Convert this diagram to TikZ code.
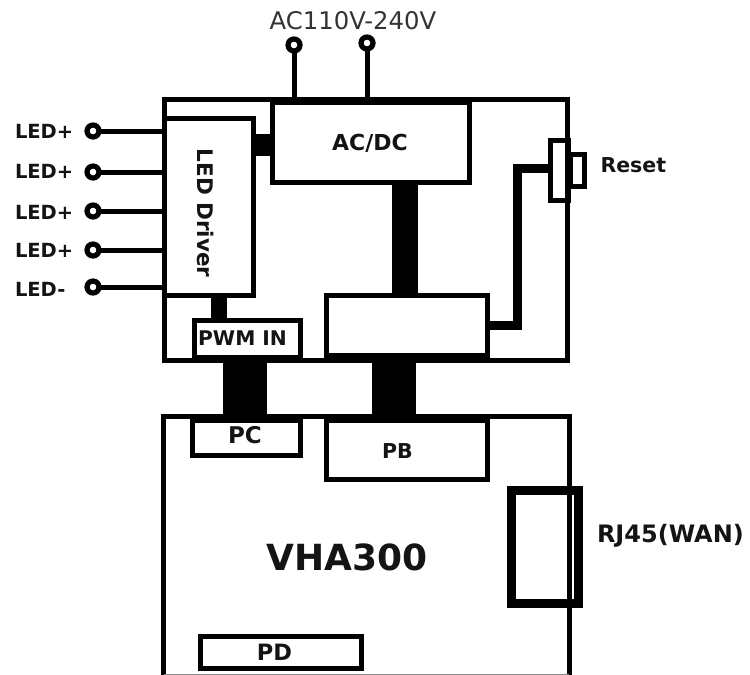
\documentclass[tikz,border=0pt]{standalone}
\usepackage{fontspec}
\setmainfont{DejaVu Sans}
\newcommand{\bfpx}[1]{\bfseries\fontsize{#1}{#1}\selectfont}
\tikzset{
  blockbox/.style={draw=black,line width=5pt,inner sep=0pt,outer sep=0pt,rectangle},
  lbl/.style={inner sep=0pt,outer sep=0pt,text=black!92},
  term/.style={circle,draw=black,line width=5.2pt,minimum size=12pt,inner sep=0pt,outer sep=0pt},
  wire/.style={draw=black,line width=5pt},
  bus/.style={draw=black},
}
\begin{document}
\begin{tikzpicture}[x=1pt,y=-1pt]
\useasboundingbox (0,0) rectangle (750,675);
% enclosures
\node[blockbox,minimum width=403pt,minimum height=261pt] (top) at (365.75,230) {};
\draw[line width=5pt,black] (163.5,675) -- (163.5,416.5) -- (569.5,416.5) -- (569.5,675);
\draw[line width=0.6pt,black!45] (164,674.6) -- (569,674.6);
\node[inner sep=0pt,outer sep=0pt,minimum width=406pt,minimum height=258pt] (bot) at (366.5,545.5) {};
% inner blocks
\node[blockbox,minimum width=89.5pt,minimum height=177pt] (drv) at (208.75,207) {};
\node[rotate=-90,lbl,font=\bfpx{21.5}] (drvt) at (205.5,213) {LED Driver};
\node[blockbox,minimum width=197pt,minimum height=80pt] (ac) at (371,142.5) {};
\node[lbl,font=\bfpx{22}] (act) at (370,143) {AC/DC};
\node[blockbox,minimum width=161pt,minimum height=60pt] (mid) at (407,325.5) {};
\draw[line width=10pt,black] (324,358) -- (490,358);
\node[blockbox,minimum width=106pt,minimum height=37pt] (pwm) at (247,339) {};
\draw[line width=8pt,black] (192,359) -- (303,359);
\node[lbl,font=\bfpx{20.2}] (pwmt) at (242.5,338) {PWM IN};
\node[blockbox,minimum width=108pt,minimum height=39pt] (pc) at (246.5,436) {};
\draw[line width=9pt,black] (190,418.5) -- (303,418.5);
\node[lbl,font=\bfpx{23}] (pct) at (245,435) {PC};
\node[blockbox,minimum width=161.5pt,minimum height=61pt] (pb) at (406.75,449) {};
\draw[line width=9pt,black] (323.5,418.5) -- (490,418.5);
\node[lbl,font=\bfpx{20.5}] (pbt) at (397.5,451) {PB};
\node[blockbox,minimum width=161pt,minimum height=32pt] (pd) at (281,652.5) {};
\node[lbl,font=\bfpx{22.5}] (pdt) at (274.5,652) {PD};
\node[blockbox,line width=9pt,minimum width=67pt,minimum height=113pt] (rj) at (545,547) {};
\node[blockbox,minimum width=18pt,minimum height=60pt] (rsa) at (559,170) {};
\node[blockbox,minimum width=14pt,minimum height=32pt] (rsb) at (577,170.5) {};
% labels
\node[lbl,font=\bfpx{36}] (vha) at (347,557) {VHA300};
\node[lbl,font=\bfpx{24},anchor=west] (rjt) at (597,536) {RJ45(WAN)};
\node[lbl,font=\bfpx{20.5},anchor=west] (rst) at (600.5,165) {Reset};
\node[inner sep=0pt,font=\fontsize{24.3}{26}\selectfont,text=black!80] (mains) at (353,21) {AC110V-240V};
% terminals
\node[term] (a1) at (294,45) {};
\node[term] (a2) at (367,43) {};
\draw[wire] (a1) -- (a1 |- top.north);
\draw[wire] (a2) -- (a2 |- top.north);
\foreach \n/\yy/\ty/\tx in {l1/131/131/LED+,l2/172/171.5/LED+,l3/211/212/LED+,l4/250/250.5/LED+,l5/287/289/LED-}{
  \node[term] (\n) at (93,\yy) {};
  \node[lbl,font=\bfpx{19.5},anchor=west] (\n t) at (15,\ty) {\tx};
  \draw[wire] (\n) -- (\n -| top.west);
}
% thick connectors
\draw[bus,line width=22pt] (drv.east |- 0,145) -- (ac.west |- 0,145);
\draw[bus,line width=16pt] (219,0 |- drv.south) -- (219,0 |- pwm.north);
\draw[bus,line width=26pt] (405,0 |- ac.south) -- (405,0 |- mid.north);
\draw[bus,line width=44pt] (245,363) -- (245,0 |- pc.north);
\draw[bus,line width=44pt] (394,363) -- (394,0 |- pb.north);
\draw[line width=9pt,black] (mid.east |- 0,325.5) -- (517.5,325.5) -- (517.5,168) -- (rsa.west |- 0,168);
\end{tikzpicture}
\end{document}
